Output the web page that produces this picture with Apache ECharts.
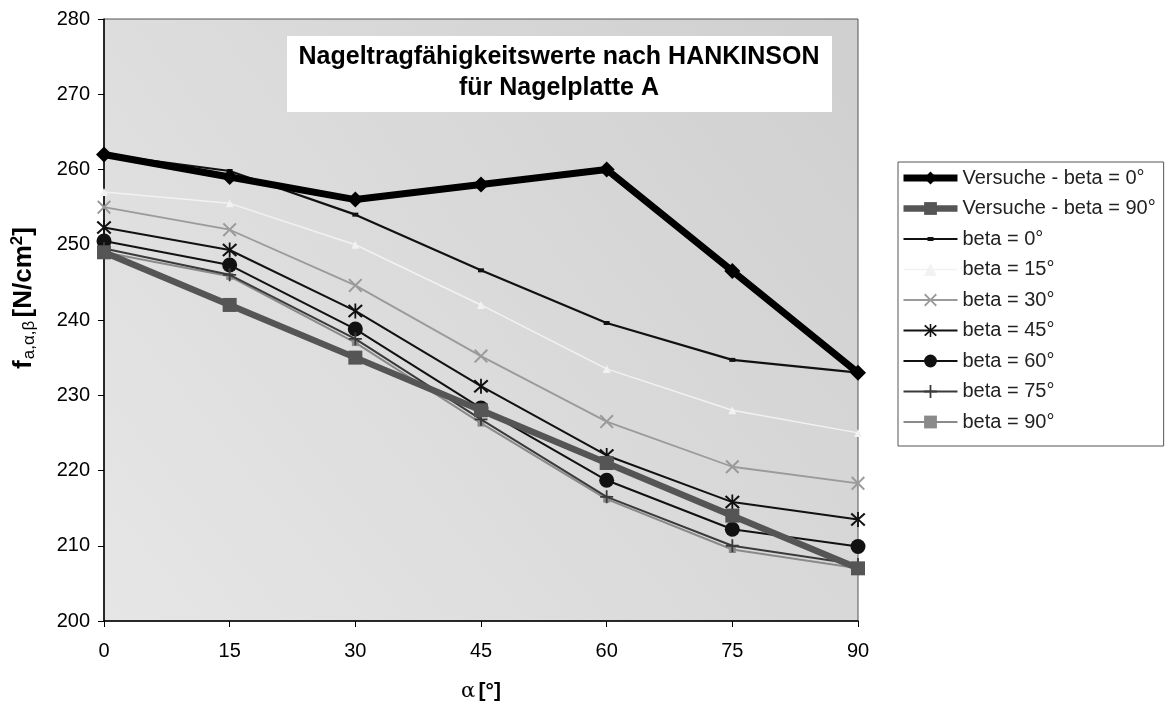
<!DOCTYPE html>
<html>
<head>
<meta charset="utf-8">
<script src="https://cdn.jsdelivr.net/npm/echarts@6/dist/echarts.min.js"></script>
<style>
  html, body { margin: 0; padding: 0; background: #fff; }
  #chart { width: 1174px; height: 707px; }
</style>
</head>
<body>
<div id="chart"></div>
<script>
// alpha [°]
var alpha = [0, 15, 30, 45, 60, 75, 90];

var versuche0 = [262, 259, 256, 258, 260, 246.5, 233];
var versuche90 = [249, 242, 235, 228, 221, 214, 207];
var beta0 = [262, 259.8, 254, 246.6, 239.6, 234.7, 233];
var beta15 = [257, 255.5, 250, 242, 233.5, 228, 225];
var beta30 = [255, 252, 244.6, 235.2, 226.5, 220.5, 218.3];
var beta45 = [252.3, 249.3, 241.2, 231.2, 222, 215.8, 213.5];
var beta60 = [250.5, 247.3, 238.8, 228.3, 218.7, 212.2, 209.9];
var beta75 = [249.5, 246, 237.5, 226.8, 216.5, 210, 207.5];
var beta90 = [249, 245.8, 237, 226.3, 216.2, 209.5, 207];

var names = [
  'Versuche - beta = 0°', 'Versuche - beta = 90°',
  'beta = 0°', 'beta = 15°', 'beta = 30°', 'beta = 45°',
  'beta = 60°', 'beta = 75°', 'beta = 90°'
];

var xMark = 'path://M0,1L1,0L5,4L9,0L10,1L6,5L10,9L9,10L5,6L1,10L0,9L4,5Z';
var starMark = 'path://M0,1.5L1,0.5L5,4.2L9,0.5L10,1.5L6,5L10,8.5L9,9.5L5,5.8L1,9.5L0,8.5L4,5Z M4.4,0L5.6,0L5.6,10L4.4,10Z';
var plusMark = 'path://M4.3,0L5.7,0L5.7,4.3L10,4.3L10,5.7L5.7,5.7L5.7,10L4.3,10L4.3,5.7L0,5.7L0,4.3L4.3,4.3Z';
// thin line with a small dash, for the beta = 0° legend entry
var dashIcon = 'path://M0,0L0.1,0L0,0.1Z M0,7L54,7L54,9L0,9Z M24,6L30,6L30,10L24,10Z M53.9,16L54,16L54,15.9Z';

function pairs(ys) {
  return alpha.map(function (a, i) { return [a, ys[i]]; });
}

function line(name, ys, color, width, symbol, size, z) {
  return {
    name: name,
    type: 'line',
    data: pairs(ys),
    symbol: symbol,
    symbolSize: size,
    showSymbol: true,
    z: z,
    lineStyle: { color: color, width: width },
    itemStyle: { color: color, borderColor: color, borderWidth: 0 },
    emphasis: { disabled: true },
    animation: false
  };
}

var legendData = names.map(function (n) {
  if (n === 'beta = 0°') {
    return { name: n, icon: dashIcon, itemStyle: { color: '#111', borderWidth: 0 } };
  }
  return { name: n };
});

var chart = echarts.init(document.getElementById('chart'));

var option = {
  backgroundColor: '#fff',
  textStyle: { fontFamily: 'Liberation Sans, Arial, sans-serif' },
  grid: {
    left: 104, right: 316, top: 19, bottom: 84,
    show: true,
    backgroundColor: {
      type: 'linear', x: 0, y: 1, x2: 1, y2: 0,
      colorStops: [{ offset: 0, color: '#e6e6e6' }, { offset: 1, color: '#cfcfcf' }]
    },
    borderColor: '#555', borderWidth: 1
  },
  xAxis: {
    type: 'value', min: 0, max: 90, interval: 15,
    name: '{a|α} {b|[°]}',
    nameLocation: 'middle', nameGap: 60,
    nameTextStyle: {
      rich: {
        a: { fontSize: 21, color: '#000', fontFamily: 'DejaVu Serif' },
        b: { fontSize: 21, color: '#000', fontWeight: 'bold' }
      }
    },
    axisLine: { lineStyle: { color: '#000', width: 1.5 } },
    axisTick: { length: 6, lineStyle: { color: '#000' } },
    axisLabel: { fontSize: 20, color: '#000', margin: 20 },
    splitLine: { show: false }
  },
  yAxis: {
    type: 'value', min: 200, max: 280, interval: 10,
    name: '{f|f}{s|a,α,β} {n|[N/cm}{p|2}{n|]}',
    nameLocation: 'middle', nameGap: 66, nameRotate: 90,
    nameTextStyle: {
      padding: [0, 0, 0, 44],
      rich: {
        f: { fontSize: 26, fontWeight: 'bold', color: '#000' },
        s: { fontSize: 17, color: '#000', padding: [12, 0, 0, 1] },
        n: { fontSize: 26, fontWeight: 'bold', color: '#000' },
        p: { fontSize: 17, fontWeight: 'bold', color: '#000', padding: [0, 0, 12, 0] }
      }
    },
    axisLine: { show: true, lineStyle: { color: '#000', width: 1.5 } },
    axisTick: { show: true, length: 6, lineStyle: { color: '#000' } },
    axisLabel: { fontSize: 20, color: '#000', margin: 14 },
    splitLine: { show: false }
  },
  legend: {
    orient: 'vertical',
    left: 898, top: 162,
    data: legendData,
    itemWidth: 54, itemHeight: 16, itemGap: 10.5,
    padding: [6, 8, 14, 2],
    backgroundColor: '#fff',
    borderColor: '#555', borderWidth: 1,
    lineStyle: { width: 'inherit' },
    textStyle: { fontSize: 20, lineHeight: 20, color: '#222' },
    selectedMode: false
  },
  graphic: [{
    type: 'group', left: 287, top: 36,
    children: [
      { type: 'rect', shape: { x: 0, y: 0, width: 545, height: 76 }, style: { fill: '#fff' } },
      {
        type: 'text', x: 272, y: 37,
        style: {
          text: 'Nageltragfähigkeitswerte nach HANKINSON\nfür Nagelplatte A',
          align: 'center', verticalAlign: 'middle',
          font: 'bold 25px "Liberation Sans", Arial, sans-serif',
          lineHeight: 31, fill: '#000'
        }
      }
    ]
  }],
  series: [
    line(names[2], beta0, '#111', 2.2, 'rect', [6, 4], 3),
    line(names[3], beta15, '#f2f2f2', 1.5, 'triangle', 8, 3),
    line(names[4], beta30, '#9a9a9a', 1.8, xMark, 14, 3),
    line(names[5], beta45, '#111', 2, starMark, 15, 4),
    line(names[6], beta60, '#111', 2, 'circle', 15, 4),
    line(names[7], beta75, '#3a3a3a', 2, plusMark, 13, 4),
    line(names[8], beta90, '#8a8a8a', 2, 'rect', 7, 3),
    line(names[1], versuche90, '#555', 6.5, 'rect', 14, 5),
    line(names[0], versuche0, '#000', 7, 'diamond', 16, 6)
  ]
};

chart.setOption(option);
</script>
</body>
</html>
